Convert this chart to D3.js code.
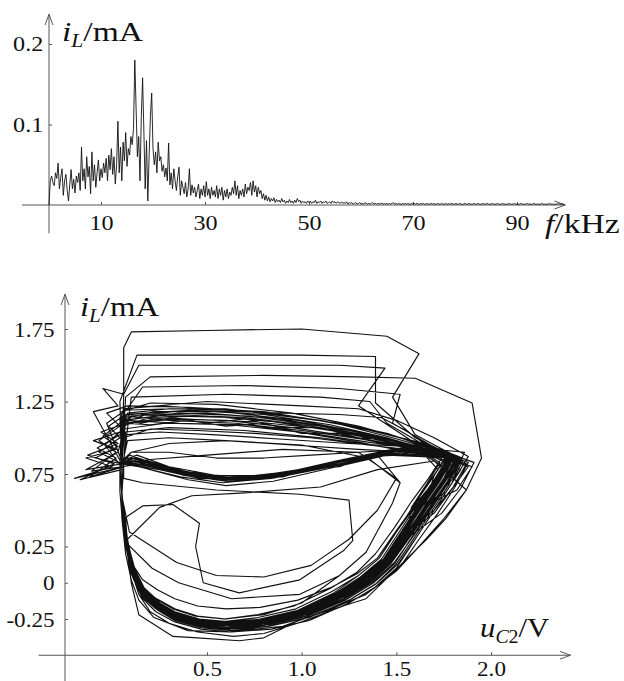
<!DOCTYPE html>
<html>
<head>
<meta charset="utf-8">
<script src="https://cdn.jsdelivr.net/npm/d3@7"></script>
<style>
  body { margin: 0; background: #fff; }
  svg text { font-family: "Liberation Serif", "DejaVu Serif", serif; fill: #111; }
</style>
</head>
<body>
<svg id="chart" width="624" height="681"></svg>
<script>
// spectrum: amplitude (mA) every 0.25 kHz from 0 to 99 kHz
const fStep = 0.25;
const spectrum = [
  0.000,0.030,0.036,0.028,0.024,0.040,0.033,0.052,0.020,0.034,
  0.045,0.012,0.030,0.038,0.018,0.005,0.026,0.044,0.020,0.032,
  0.015,0.036,0.028,0.040,0.018,0.072,0.030,0.045,0.020,0.060,
  0.035,0.048,0.014,0.066,0.030,0.050,0.022,0.040,0.056,0.030,
  0.045,0.034,0.052,0.040,0.058,0.030,0.062,0.044,0.070,0.038,
  0.060,0.026,0.050,0.104,0.040,0.072,0.030,0.078,0.055,0.090,
  0.048,0.070,0.062,0.085,0.075,0.095,0.180,0.120,0.060,0.085,
  0.030,0.110,0.158,0.090,0.020,0.080,0.005,0.060,0.110,0.139,
  0.070,0.050,0.066,0.040,0.078,0.055,0.060,0.042,0.050,0.035,
  0.046,0.030,0.077,0.025,0.040,0.020,0.045,0.030,0.018,0.035,
  0.047,0.012,0.030,0.022,0.014,0.028,0.010,0.020,0.045,0.012,
  0.025,0.015,0.022,0.010,0.018,0.026,0.008,0.020,0.012,0.024,
  0.010,0.029,0.012,0.020,0.008,0.022,0.012,0.018,0.010,0.024,
  0.008,0.020,0.012,0.022,0.006,0.018,0.010,0.020,0.008,0.016,
  0.012,0.022,0.014,0.030,0.012,0.024,0.008,0.018,0.012,0.020,
  0.010,0.026,0.014,0.022,0.018,0.028,0.012,0.030,0.016,0.024,
  0.010,0.022,0.014,0.018,0.008,0.014,0.006,0.012,0.005,0.010,
  0.004,0.008,0.005,0.009,0.003,0.007,0.004,0.006,0.003,0.008,
  0.004,0.006,0.002,0.005,0.003,0.007,0.003,0.005,0.002,0.006,
  0.003,0.008,0.004,0.006,0.002,0.005,0.003,0.004,0.002,0.005,
  0.003,0.005,0.002,0.004,0.003,0.006,0.002,0.004,0.003,0.005,0.002,0.004,0.003,0.005,0.002,0.003,0.004,0.002,0.005,0.003,
  0.004,0.002,0.004,0.003,0.002,0.004,0.002,0.003,0.002,0.004,0.001,0.003,0.002,0.003,0.001,0.002,0.003,0.001,0.002,0.003,
  0.001,0.002,0.001,0.003,0.002,0.001,0.002,0.001,0.002,0.003,0.001,0.002,0.001,0.002,0.001,0.002,0.002,0.001,0.002,0.001,
  0.002,0.001,0.002,0.001,0.002,0.003,0.001,0.002,0.001,0.002,0.001,0.001,0.002,0.001,0.002,0.001,0.002,0.001,0.001,0.002,
  0.001,0.002,0.001,0.002,0.001,0.001,0.002,0.001,0.002,0.001,0.001,0.002,0.001,0.001,0.002,0.001,0.002,0.001,0.001,0.002,
  0.001,0.001,0.002,0.001,0.001,0.002,0.001,0.001,0.002,0.001,0.002,0.001,0.001,0.002,0.001,0.001,0.002,0.001,0.001,0.001,
  0.002,0.001,0.001,0.002,0.001,0.001,0.001,0.002,0.001,0.001,0.002,0.001,0.001,0.001,0.002,0.001,0.001,0.002,0.001,0.001,
  0.001,0.002,0.001,0.001,0.001,0.002,0.001,0.001,0.001,0.002,0.001,0.001,0.001,0.001,0.002,0.001,0.001,0.001,0.002,0.001,
  0.001,0.001,0.001,0.002,0.001,0.001,0.001,0.001,0.002,0.001,0.001,0.001,0.001,0.002,0.001,0.001,0.001,0.001,0.001,0.002,
  0.001,0.001,0.001,0.001,0.001,0.002,0.001,0.001,0.001,0.001,0.001,0.001,0.002,0.001,0.001,0.001,0.001
];
const fTicks = [10, 30, 50, 70, 90];
const aTicks = [0.1, 0.2];

// phase portrait (u_C2 in V, i_L in mA), traced loop by loop
const mainLoops = [
  [[0.05,0.78],[0.05,1.08],[0.2,1.14],[0.5,1.15],[0.85,1.11],[1.2,1.04],[1.5,0.96],[1.87,0.82],[1.8,0.66],[1.7,0.5],[1.55,0.36],[1.45,0.16],[1.35,0.04],[1.2,-0.08],[1.0,-0.2],[0.8,-0.26],[0.6,-0.29],[0.45,-0.27],[0.32,-0.22],[0.24,-0.16],[0.17,-0.08],[0.11,0.06],[0.08,0.25],[0.06,0.45],[0.05,0.62]],
  [[0.05,0.8],[0.15,0.82],[0.35,0.75],[0.6,0.71],[0.85,0.74],[1.15,0.82],[1.45,0.91],[1.79,0.87],[1.72,0.71],[1.63,0.54],[1.54,0.35],[1.44,0.15],[1.33,0.03],[1.19,-0.09],[0.99,-0.21],[0.79,-0.27],[0.59,-0.3],[0.44,-0.28],[0.31,-0.23],[0.23,-0.17],[0.16,-0.09],[0.11,0.05],[0.08,0.24],[0.06,0.46],[0.05,0.63]],
  [[0.06,0.8],[-0.12,0.73],[0.02,0.86],[-0.08,0.93],[0.04,1.02],[0.1,1.15],[0.4,1.19],[0.8,1.16],[1.15,1.09],[1.45,1.0],[1.66,0.92],[1.84,0.85],[1.76,0.7],[1.67,0.53],[1.57,0.34],[1.46,0.14],[1.36,0.02],[1.21,-0.1],[1.01,-0.21],[0.81,-0.28],[0.61,-0.31],[0.46,-0.29],[0.33,-0.24],[0.24,-0.17],[0.17,-0.09],[0.12,0.04],[0.08,0.24],[0.06,0.44],[0.05,0.61]],
  [[0.05,0.82],[0.07,1.15],[0.3,1.12],[0.65,1.1],[1.0,1.05],[1.32,0.99],[1.6,0.92],[1.75,0.8],[1.68,0.66],[1.6,0.51],[1.55,0.34],[1.45,0.15],[1.34,0.03],[1.2,-0.09],[1.0,-0.2],[0.8,-0.27],[0.61,-0.29],[0.45,-0.27],[0.32,-0.22],[0.23,-0.16],[0.16,-0.08],[0.11,0.06],[0.07,0.26],[0.05,0.46],[0.05,0.64]],
  [[0.05,0.82],[0.1,0.86],[0.28,0.79],[0.5,0.73],[0.7,0.72],[1.0,0.77],[1.3,0.86],[1.55,0.93],[1.77,0.88],[1.71,0.71],[1.62,0.54],[1.53,0.36],[1.43,0.16],[1.32,0.04],[1.18,-0.08],[0.98,-0.2],[0.78,-0.26],[0.59,-0.28],[0.43,-0.26],[0.3,-0.21],[0.22,-0.15],[0.15,-0.07],[0.1,0.07],[0.07,0.27],[0.05,0.47],[0.04,0.63]],
  [[0.04,0.8],[0.05,1.18],[0.2,1.24],[0.55,1.23],[0.95,1.17],[1.3,1.08],[1.6,0.97],[1.91,0.83],[1.84,0.65],[1.74,0.48],[1.58,0.33],[1.47,0.13],[1.37,0.01],[1.22,-0.11],[1.02,-0.22],[0.82,-0.29],[0.62,-0.32],[0.47,-0.3],[0.34,-0.25],[0.25,-0.18],[0.18,-0.1],[0.12,0.03],[0.08,0.23],[0.06,0.44],[0.05,0.6]],
  [[0.05,0.78],[-0.17,0.71],[0.01,0.82],[-0.13,0.88],[0.03,0.96],[-0.06,1.04],[0.07,1.1],[0.35,1.13],[0.75,1.11],[1.12,1.06],[1.42,0.98],[1.64,0.91],[1.81,0.84],[1.74,0.68],[1.65,0.51],[1.55,0.33],[1.45,0.14],[1.35,0.02],[1.2,-0.1],[1.0,-0.21],[0.8,-0.28],[0.6,-0.3],[0.44,-0.28],[0.31,-0.23],[0.23,-0.17],[0.16,-0.09],[0.11,0.05],[0.07,0.25],[0.05,0.45],[0.05,0.62]],
  [[0.05,0.83],[0.2,0.8],[0.42,0.74],[0.64,0.7],[0.9,0.74],[1.2,0.83],[1.5,0.92],[1.8,0.86],[1.73,0.7],[1.64,0.53],[1.55,0.35],[1.45,0.15],[1.34,0.03],[1.2,-0.08],[1.0,-0.2],[0.8,-0.26],[0.6,-0.28],[0.45,-0.26],[0.32,-0.21],[0.24,-0.15],[0.17,-0.07],[0.11,0.06],[0.08,0.25],[0.06,0.45],[0.05,0.62]],
  [[0.06,0.82],[0.07,1.04],[0.3,1.07],[0.7,1.05],[1.1,1.0],[1.42,0.94],[1.65,0.89],[1.73,0.83],[1.66,0.68],[1.58,0.52],[1.56,0.36],[1.46,0.17],[1.35,0.05],[1.21,-0.07],[1.01,-0.19],[0.81,-0.25],[0.62,-0.27],[0.46,-0.25],[0.33,-0.2],[0.25,-0.14],[0.18,-0.06],[0.12,0.07],[0.08,0.27],[0.06,0.47],[0.05,0.63]],
  [[0.05,0.84],[0.13,0.88],[0.3,0.8],[0.55,0.74],[0.78,0.74],[1.08,0.8],[1.38,0.89],[1.6,0.94],[1.78,0.87],[1.72,0.72],[1.63,0.55],[1.54,0.37],[1.44,0.17],[1.33,0.05],[1.19,-0.07],[0.99,-0.19],[0.79,-0.26],[0.6,-0.29],[0.44,-0.27],[0.31,-0.22],[0.23,-0.15],[0.16,-0.07],[0.1,0.07],[0.07,0.27],[0.05,0.47],[0.05,0.64]],
  [[0.05,0.82],[-0.09,0.86],[0.03,0.94],[-0.05,1.01],[0.06,1.12],[0.35,1.17],[0.72,1.15],[1.1,1.08],[1.44,0.99],[1.68,0.91],[1.83,0.85],[1.75,0.69],[1.66,0.52],[1.56,0.34],[1.46,0.14],[1.36,0.02],[1.21,-0.09],[1.01,-0.21],[0.81,-0.27],[0.61,-0.3],[0.45,-0.28],[0.32,-0.23],[0.24,-0.17],[0.17,-0.09],[0.11,0.05],[0.08,0.25],[0.06,0.45],[0.05,0.61]],
  [[0.05,0.8],[0.06,1.1],[0.25,1.13],[0.6,1.12],[0.95,1.07],[1.3,1.0],[1.58,0.93],[1.8,0.85],[1.72,0.69],[1.63,0.52],[1.54,0.34],[1.44,0.15],[1.33,0.03],[1.19,-0.08],[0.99,-0.2],[0.79,-0.26],[0.6,-0.29],[0.45,-0.27],[0.32,-0.22],[0.24,-0.16],[0.17,-0.08],[0.11,0.06],[0.08,0.26],[0.07,0.45],[0.16,0.53],[0.32,0.54],[0.46,0.41],[0.44,0.25],[0.48,0.0],[0.67,-0.07],[0.99,0.02],[1.22,0.22],[1.27,0.29],[1.25,0.57],[0.99,0.61],[0.55,0.64],[0.16,0.69],[0.06,0.72]],
  [[0.06,0.82],[0.25,0.78],[0.46,0.72],[0.66,0.71],[0.95,0.76],[1.25,0.85],[1.53,0.93],[1.78,0.9],[1.7,0.74],[1.65,0.53],[1.56,0.35],[1.46,0.15],[1.35,0.03],[1.21,-0.09],[1.01,-0.2],[0.81,-0.27],[0.61,-0.3],[0.46,-0.28],[0.33,-0.23],[0.25,-0.17],[0.18,-0.09],[0.12,0.05],[0.08,0.25],[0.06,0.45],[0.05,0.63]],
  [[0.05,0.8],[0.06,1.12],[0.3,1.16],[0.7,1.14],[1.05,1.08],[1.38,1.0],[1.63,0.92],[1.85,0.84],[1.79,0.68],[1.7,0.5],[1.6,0.3],[1.5,0.1],[1.38,-0.04],[1.22,-0.16],[1.0,-0.27],[0.8,-0.35],[0.64,-0.37],[0.45,-0.34],[0.3,-0.28],[0.2,-0.2],[0.14,-0.08],[0.1,0.08],[0.08,0.28],[0.06,0.46],[0.05,0.64]],
  [[0.05,0.82],[0.06,1.06],[0.28,1.1],[0.62,1.09],[0.98,1.04],[1.3,0.97],[1.57,0.9],[1.78,0.84],[1.7,0.7],[1.6,0.54],[1.5,0.36],[1.4,0.17],[1.29,0.06],[1.16,-0.03],[0.98,-0.12],[0.78,-0.17],[0.6,-0.18],[0.45,-0.16],[0.33,-0.11],[0.24,-0.05],[0.16,0.02],[0.11,0.12],[0.08,0.3],[0.06,0.48],[0.05,0.64]],
  [[0.05,0.84],[0.16,0.85],[0.38,0.77],[0.6,0.72],[0.82,0.73],[1.12,0.81],[1.42,0.9],[1.76,0.87],[1.69,0.72],[1.6,0.55],[1.51,0.37],[1.41,0.17],[1.3,0.05],[1.17,-0.07],[0.98,-0.19],[0.78,-0.25],[0.59,-0.28],[0.43,-0.26],[0.3,-0.21],[0.22,-0.15],[0.15,-0.07],[0.1,0.07],[0.07,0.27],[0.05,0.47],[0.05,0.63]],
  [[0.05,0.8],[-0.11,0.77],[0.02,0.9],[-0.07,0.98],[0.04,1.08],[-0.03,1.17],[0.08,1.22],[0.4,1.21],[0.8,1.18],[1.18,1.1],[1.48,1.0],[1.7,0.92],[1.84,0.86],[1.77,0.7],[1.68,0.53],[1.58,0.34],[1.47,0.14],[1.37,0.02],[1.22,-0.1],[1.02,-0.22],[0.82,-0.29],[0.62,-0.32],[0.46,-0.3],[0.33,-0.24],[0.25,-0.17],[0.18,-0.09],[0.12,0.05],[0.08,0.25],[0.06,0.45],[0.05,0.62]],
  [[0.05,0.83],[0.22,0.81],[0.43,0.75],[0.65,0.72],[0.92,0.75],[1.22,0.84],[1.5,0.91],[1.79,0.86],[1.72,0.7],[1.63,0.53],[1.54,0.35],[1.44,0.15],[1.33,0.03],[1.19,-0.09],[0.99,-0.21],[0.79,-0.27],[0.6,-0.3],[0.44,-0.28],[0.31,-0.23],[0.23,-0.17],[0.16,-0.09],[0.11,0.05],[0.07,0.25],[0.05,0.45],[0.05,0.62]],
  [[0.05,0.82],[0.06,1.13],[0.22,1.18],[0.58,1.18],[0.98,1.12],[1.34,1.03],[1.62,0.94],[1.88,0.8],[1.79,0.64],[1.7,0.48],[1.57,0.35],[1.46,0.16],[1.35,0.04],[1.21,-0.08],[1.01,-0.2],[0.81,-0.26],[0.61,-0.29],[0.46,-0.27],[0.33,-0.22],[0.24,-0.16],[0.17,-0.08],[0.11,0.06],[0.08,0.26],[0.06,0.46],[0.05,0.63]],
  [[0.05,0.82],[0.12,0.84],[0.33,0.77],[0.58,0.72],[0.8,0.72],[1.1,0.79],[1.4,0.88],[1.52,0.69],[1.48,0.55],[1.34,0.21],[1.2,0.05],[1.0,-0.14],[0.8,-0.22],[0.6,-0.25],[0.45,-0.23],[0.33,-0.18],[0.22,-0.1],[0.14,0.0],[0.09,0.15],[0.07,0.35],[0.05,0.55]],
  [[0.05,0.8],[0.05,1.1],[0.18,1.16],[0.5,1.17],[0.88,1.13],[1.25,1.05],[1.55,0.96],[1.8,0.87],[1.73,0.71],[1.64,0.54],[1.55,0.36],[1.45,0.16],[1.34,0.04],[1.2,-0.08],[1.0,-0.2],[0.8,-0.27],[0.6,-0.3],[0.45,-0.28],[0.32,-0.23],[0.23,-0.17],[0.16,-0.08],[0.11,0.05],[0.07,0.25],[0.05,0.45],[0.05,0.62]],
  [[0.05,0.84],[0.18,0.83],[0.4,0.76],[0.62,0.72],[0.88,0.75],[1.18,0.84],[1.48,0.92],[1.78,0.86],[1.71,0.71],[1.62,0.54],[1.53,0.35],[1.43,0.16],[1.32,0.04],[1.18,-0.08],[0.98,-0.2],[0.78,-0.26],[0.59,-0.29],[0.44,-0.27],[0.31,-0.22],[0.23,-0.16],[0.16,-0.08],[0.1,0.06],[0.07,0.26],[0.05,0.46],[0.05,0.63]]
];
const extraLoops = [
  [[0.05,0.8],[0.08,0.98],[0.3,1.0],[0.6,0.98],[0.95,0.95],[1.3,0.92],[1.6,0.9],[1.8,0.85],[1.78,0.68],[1.69,0.5],[1.6,0.32],[1.5,0.13],[1.39,-0.01],[1.24,-0.13],[1.03,-0.24],[0.82,-0.3],[0.62,-0.32],[0.46,-0.3],[0.32,-0.25],[0.23,-0.18],[0.16,-0.1],[0.11,0.04],[0.08,0.24],[0.06,0.44],[0.05,0.62]],
  [[0.05,0.83],[0.04,1.14],[0.15,1.1],[0.32,1.14],[0.5,1.1],[0.7,1.13],[0.9,1.07],[1.1,1.07],[1.3,1.0],[1.5,0.98],[1.7,0.9],[1.9,0.8],[1.82,0.64],[1.68,0.55],[1.59,0.37],[1.49,0.18],[1.38,0.05],[1.23,-0.07],[1.03,-0.19],[0.82,-0.25],[0.62,-0.28],[0.46,-0.26],[0.33,-0.21],[0.25,-0.15],[0.18,-0.07],[0.12,0.07],[0.08,0.26],[0.06,0.46],[0.05,0.62]],
  [[0.05,0.82],[0.14,0.8],[0.36,0.73],[0.58,0.69],[0.84,0.72],[1.12,0.79],[1.4,0.87],[1.6,0.9],[1.74,0.86],[1.67,0.72],[1.58,0.56],[1.49,0.38],[1.39,0.2],[1.29,0.07],[1.15,-0.04],[0.96,-0.16],[0.77,-0.22],[0.59,-0.25],[0.44,-0.23],[0.32,-0.18],[0.24,-0.12],[0.17,-0.04],[0.12,0.09],[0.08,0.28],[0.06,0.48],[0.05,0.64]],
  [[0.05,0.8],[-0.04,0.95],[0.05,1.05],[0.06,1.2],[0.25,1.22],[0.5,1.2],[0.8,1.17],[1.1,1.12],[1.4,1.04],[1.65,0.96],[1.83,0.87],[1.76,0.71],[1.67,0.54],[1.58,0.36],[1.48,0.16],[1.37,0.03],[1.22,-0.09],[1.02,-0.21],[0.81,-0.27],[0.61,-0.3],[0.45,-0.28],[0.32,-0.23],[0.24,-0.16],[0.17,-0.08],[0.11,0.06],[0.08,0.26],[0.06,0.46],[0.05,0.62]],
  [[0.05,0.84],[0.1,0.9],[0.3,0.9],[0.55,0.86],[0.8,0.86],[1.05,0.88],[1.3,0.9],[1.55,0.92],[1.78,0.86],[1.71,0.7],[1.62,0.53],[1.53,0.35],[1.43,0.15],[1.32,0.03],[1.18,-0.09],[0.98,-0.21],[0.78,-0.27],[0.59,-0.3],[0.44,-0.28],[0.31,-0.22],[0.23,-0.16],[0.16,-0.08],[0.11,0.06],[0.07,0.26],[0.05,0.46],[0.05,0.63]],
  [[0.05,0.83],[0.16,0.84],[0.3,0.77],[0.45,0.76],[0.6,0.71],[0.75,0.74],[0.9,0.73],[1.05,0.79],[1.2,0.8],[1.35,0.87],[1.5,0.88],[1.65,0.93],[1.81,0.86],[1.75,0.7],[1.66,0.52],[1.57,0.34],[1.47,0.14],[1.36,0.02],[1.21,-0.1],[1.01,-0.22],[0.8,-0.28],[0.6,-0.31],[0.44,-0.29],[0.31,-0.24],[0.23,-0.17],[0.16,-0.09],[0.11,0.05],[0.07,0.25],[0.05,0.45],[0.05,0.62]],
  [[0.05,0.81],[0.06,1.1],[0.2,1.09],[0.4,1.12],[0.6,1.08],[0.8,1.1],[1.0,1.03],[1.2,1.03],[1.4,0.97],[1.6,0.95],[1.76,0.88],[1.88,0.83],[1.81,0.66],[1.72,0.48],[1.62,0.3],[1.52,0.11],[1.4,-0.02],[1.25,-0.14],[1.04,-0.26],[0.84,-0.32],[0.63,-0.34],[0.47,-0.32],[0.33,-0.27],[0.23,-0.2],[0.16,-0.11],[0.11,0.03],[0.08,0.23],[0.06,0.43],[0.05,0.6]],
  [[0.06,0.8],[-0.2,0.72],[0.0,0.8],[-0.14,0.86],[0.02,0.92],[-0.1,0.98],[0.04,1.04],[0.08,1.17],[0.3,1.2],[0.65,1.19],[1.0,1.14],[1.3,1.07],[1.55,0.99],[1.78,0.88],[1.72,0.72],[1.63,0.55],[1.54,0.37],[1.44,0.17],[1.33,0.05],[1.19,-0.07],[0.99,-0.19],[0.79,-0.25],[0.6,-0.28],[0.45,-0.26],[0.32,-0.21],[0.24,-0.15],[0.17,-0.07],[0.11,0.07],[0.08,0.27],[0.06,0.47],[0.05,0.63]],
  [[0.05,0.84],[0.2,0.78],[0.4,0.71],[0.6,0.67],[0.85,0.7],[1.15,0.79],[1.45,0.88],[1.8,0.86],[1.74,0.69],[1.65,0.52],[1.56,0.34],[1.46,0.14],[1.35,0.02],[1.21,-0.1],[1.01,-0.21],[0.81,-0.28],[0.61,-0.31],[0.46,-0.29],[0.33,-0.24],[0.24,-0.17],[0.17,-0.09],[0.12,0.05],[0.08,0.25],[0.06,0.45],[0.05,0.62]],
  [[0.05,0.82],[0.07,1.12],[0.35,1.1],[0.7,1.09],[1.05,1.03],[1.35,0.97],[1.58,0.93],[1.65,0.88],[1.72,0.78],[1.64,0.64],[1.6,0.53],[1.5,0.35],[1.41,0.17],[1.3,0.05],[1.16,-0.06],[0.97,-0.18],[0.77,-0.24],[0.58,-0.27],[0.43,-0.25],[0.31,-0.2],[0.23,-0.14],[0.16,-0.06],[0.1,0.08],[0.07,0.28],[0.05,0.48],[0.05,0.64]],
  [[0.05,0.83],[0.06,1.16],[0.4,1.19],[0.9,1.17],[1.2,1.16],[1.42,1.14],[1.55,1.05],[1.66,0.95],[1.85,0.86],[1.78,0.7],[1.69,0.52],[1.6,0.34],[1.49,0.14],[1.38,0.01],[1.23,-0.11],[1.03,-0.23],[0.82,-0.29],[0.62,-0.32],[0.46,-0.3],[0.33,-0.25],[0.24,-0.18],[0.17,-0.1],[0.12,0.04],[0.08,0.24],[0.06,0.44],[0.05,0.61]],
  [[0.05,0.82],[0.09,0.88],[0.25,0.81],[0.45,0.75],[0.68,0.73],[0.96,0.77],[1.26,0.86],[1.56,0.94],[1.8,0.87],[1.73,0.72],[1.64,0.55],[1.55,0.37],[1.45,0.17],[1.34,0.05],[1.2,-0.07],[1.0,-0.19],[0.8,-0.25],[0.61,-0.28],[0.45,-0.26],[0.32,-0.21],[0.24,-0.15],[0.17,-0.07],[0.11,0.07],[0.08,0.27],[0.06,0.47],[0.05,0.63]],
  [[0.05,0.8],[0.06,1.02],[0.25,1.04],[0.55,1.02],[0.9,0.99],[1.25,0.96],[1.55,0.94],[1.83,0.85],[1.75,0.69],[1.66,0.52],[1.57,0.34],[1.46,0.14],[1.35,0.02],[1.2,-0.1],[1.0,-0.21],[0.8,-0.27],[0.6,-0.3],[0.44,-0.28],[0.31,-0.23],[0.23,-0.17],[0.16,-0.09],[0.11,0.05],[0.07,0.25],[0.05,0.45],[0.05,0.62]],
  [[0.05,0.82],[-0.07,0.9],[0.04,1.0],[-0.02,1.08],[0.07,1.16],[0.3,1.15],[0.62,1.14],[0.95,1.1],[1.28,1.03],[1.55,0.96],[1.84,0.78],[1.76,0.62],[1.63,0.54],[1.54,0.36],[1.44,0.16],[1.33,0.04],[1.19,-0.08],[0.99,-0.2],[0.79,-0.26],[0.6,-0.29],[0.45,-0.27],[0.32,-0.22],[0.24,-0.16],[0.17,-0.08],[0.11,0.06],[0.08,0.26],[0.06,0.46],[0.05,0.63]],
  [[0.05,0.83],[0.12,0.86],[0.32,0.78],[0.52,0.74],[0.72,0.73],[1.0,0.78],[1.28,0.85],[1.58,0.91],[1.83,0.85],[1.77,0.69],[1.68,0.51],[1.59,0.33],[1.49,0.13],[1.38,0.0],[1.23,-0.12],[1.03,-0.23],[0.83,-0.29],[0.62,-0.32],[0.46,-0.3],[0.33,-0.25],[0.24,-0.18],[0.17,-0.1],[0.12,0.04],[0.08,0.24],[0.06,0.44],[0.05,0.61]],
  [[0.05,0.81],[0.06,1.19],[0.3,1.2],[0.6,1.2],[0.9,1.15],[1.2,1.1],[1.45,1.03],[1.68,0.93],[1.82,0.86],[1.74,0.7],[1.65,0.53],[1.56,0.35],[1.46,0.15],[1.35,0.03],[1.21,-0.09],[1.01,-0.2],[0.81,-0.26],[0.61,-0.29],[0.46,-0.27],[0.33,-0.22],[0.25,-0.16],[0.18,-0.08],[0.12,0.06],[0.08,0.26],[0.06,0.46],[0.05,0.62]],
  [[0.05,0.82],[0.06,1.2],[0.5,1.25],[1.0,1.22],[1.3,1.2],[1.5,1.12],[1.7,1.0],[1.88,0.87],[1.8,0.7],[1.71,0.52],[1.62,0.34],[1.51,0.13],[1.4,0.0],[1.25,-0.12],[1.04,-0.24],[0.83,-0.3],[0.63,-0.33],[0.47,-0.31],[0.33,-0.26],[0.24,-0.19],[0.17,-0.1],[0.12,0.04],[0.08,0.24],[0.06,0.44],[0.05,0.61]],
  [[0.05,0.83],[0.18,0.81],[0.38,0.74],[0.6,0.7],[0.86,0.73],[1.16,0.81],[1.46,0.89],[1.77,0.86],[1.7,0.71],[1.61,0.54],[1.52,0.36],[1.42,0.16],[1.31,0.04],[1.17,-0.08],[0.97,-0.2],[0.77,-0.26],[0.58,-0.29],[0.43,-0.27],[0.3,-0.22],[0.22,-0.16],[0.15,-0.08],[0.1,0.06],[0.07,0.26],[0.05,0.46],[0.05,0.63]],
  [[0.05,0.82],[0.06,1.0],[0.2,1.06],[0.45,1.05],[0.75,1.03],[1.05,1.0],[1.35,0.95],[1.62,0.91],[1.8,0.86],[1.73,0.71],[1.64,0.54],[1.55,0.36],[1.45,0.16],[1.34,0.04],[1.2,-0.08],[1.0,-0.2],[0.8,-0.26],[0.6,-0.29],[0.45,-0.27],[0.32,-0.22],[0.24,-0.16],[0.17,-0.08],[0.11,0.06],[0.08,0.26],[0.06,0.46],[0.05,0.62]],
  [[0.05,0.84],[0.14,0.83],[0.34,0.76],[0.56,0.72],[0.8,0.74],[1.06,0.79],[1.34,0.87],[1.62,0.93],[1.86,0.9],[1.8,0.72],[1.67,0.53],[1.58,0.35],[1.48,0.15],[1.37,0.03],[1.22,-0.09],[1.02,-0.21],[0.82,-0.27],[0.62,-0.3],[0.46,-0.28],[0.33,-0.23],[0.25,-0.17],[0.18,-0.09],[0.12,0.05],[0.08,0.25],[0.06,0.45],[0.05,0.62]]
];
const upperLoops = [
  [[0.05,0.82],[0.06,1.3],[0.06,1.62],[0.1,1.73],[0.5,1.74],[1.0,1.75],[1.45,1.7],[1.62,1.58],[1.48,1.28],[1.6,1.02],[1.83,0.86],[1.76,0.7],[1.67,0.53],[1.57,0.34],[1.46,0.15],[1.35,0.03],[1.21,-0.09],[1.01,-0.21],[0.81,-0.28],[0.61,-0.31],[0.45,-0.29],[0.32,-0.24],[0.24,-0.17],[0.17,-0.09],[0.11,0.05],[0.08,0.25],[0.06,0.45],[0.05,0.62]],
  [[0.05,0.82],[0.04,1.25],[0.13,1.57],[0.6,1.57],[1.0,1.57],[1.39,1.56],[1.39,1.24],[1.6,1.0],[1.82,0.86],[1.75,0.7],[1.66,0.53],[1.56,0.35],[1.46,0.15],[1.35,0.03],[1.2,-0.09],[1.0,-0.2],[0.8,-0.27],[0.6,-0.29],[0.45,-0.27],[0.32,-0.22],[0.24,-0.16],[0.17,-0.08],[0.11,0.06],[0.08,0.26],[0.06,0.46],[0.05,0.62]],
  [[0.05,0.82],[-0.1,1.18],[0.03,1.22],[-0.05,1.34],[0.06,1.3],[0.14,1.5],[0.7,1.5],[1.2,1.5],[1.44,1.48],[1.3,1.22],[1.58,0.98],[1.81,0.85],[1.74,0.69],[1.65,0.52],[1.55,0.34],[1.45,0.14],[1.34,0.02],[1.2,-0.1],[1.0,-0.22],[0.8,-0.29],[0.6,-0.32],[0.45,-0.3],[0.32,-0.24],[0.23,-0.17],[0.16,-0.09],[0.11,0.05],[0.07,0.25],[0.05,0.45],[0.05,0.62]],
  [[0.05,0.83],[0.07,1.28],[0.2,1.42],[0.8,1.43],[1.3,1.42],[1.6,1.41],[1.9,1.24],[1.95,0.86],[1.87,0.64],[1.76,0.44],[1.66,0.3],[1.52,0.12],[1.34,-0.11],[1.0,-0.25],[0.8,-0.38],[0.67,-0.4],[0.45,-0.38],[0.32,-0.37],[0.14,-0.22],[0.1,0.0],[0.07,0.3],[0.05,0.6]],
  [[0.05,0.84],[-0.03,1.1],[0.08,1.2],[0.16,1.35],[0.7,1.36],[1.2,1.34],[1.52,1.3],[1.48,1.1],[1.68,0.95],[1.84,0.85],[1.77,0.69],[1.68,0.52],[1.58,0.33],[1.47,0.13],[1.36,0.01],[1.22,-0.11],[1.02,-0.23],[0.82,-0.29],[0.62,-0.32],[0.46,-0.3],[0.33,-0.25],[0.24,-0.18],[0.17,-0.1],[0.12,0.04],[0.08,0.24],[0.06,0.44],[0.05,0.61]],
  [[0.06,0.84],[0.1,1.28],[0.6,1.3],[1.1,1.28],[1.36,1.25],[1.45,1.1],[1.62,0.97],[1.8,0.87],[1.73,0.71],[1.64,0.54],[1.54,0.36],[1.44,0.16],[1.33,0.04],[1.19,-0.08],[0.99,-0.19],[0.79,-0.25],[0.6,-0.27],[0.45,-0.25],[0.32,-0.2],[0.24,-0.14],[0.17,-0.06],[0.11,0.08],[0.08,0.28],[0.06,0.47],[0.05,0.63]]
];
const innerLoops = [
  [[0.05,0.62],[0.08,0.3],[0.25,0.52],[0.42,0.6],[0.7,0.62],[1.1,0.66],[1.4,0.78],[1.7,0.84],[1.87,0.64],[1.75,0.44],[1.62,0.25],[1.5,0.08],[1.34,-0.08],[1.12,-0.2],[0.9,-0.3],[0.62,-0.34],[0.4,-0.33],[0.22,-0.24],[0.14,-0.12],[0.1,0.02],[0.07,0.2],[0.05,0.45]],
  [[0.05,0.5],[0.07,0.28],[0.21,0.1],[0.35,0.0],[0.63,-0.11],[0.99,-0.08],[1.2,0.05],[1.34,0.21],[1.48,0.55],[1.52,0.69],[1.35,0.86],[1.0,0.95],[0.6,0.98],[0.3,0.96],[0.1,0.9],[0.04,0.82]],
  [[0.05,0.6],[0.09,0.35],[0.34,0.14],[0.55,0.05],[0.8,0.04],[1.05,0.12],[1.25,0.3],[1.4,0.5],[1.5,0.72],[1.3,0.9],[0.9,0.92],[0.5,0.88],[0.2,0.85],[-0.14,0.78],[0.03,0.9],[0.05,1.0]]
];
const uTicks = [0.5, 1.0, 1.5, 2.0];
const iTicks = [-0.25, 0, 0.25, 0.75, 1.25, 1.75];

const svg = d3.select("#chart");
const ink = "#111", axisInk = "#555";

// open arrow head for the axes
svg.append("defs").append("marker")
  .attr("id", "arrow")
  .attr("viewBox", "0 -5 12 10")
  .attr("refX", 11).attr("refY", 0)
  .attr("markerWidth", 12).attr("markerHeight", 10)
  .attr("markerUnits", "userSpaceOnUse")
  .attr("orient", "auto")
  .append("path")
    .attr("d", "M0,-4L11,0L0,4")
    .attr("fill", "none")
    .attr("stroke", axisInk)
    .attr("stroke-width", 1);

// the scanned lettering is a little wider than Liberation Serif
function styleAxis(g, size, stretch) {
  g.select(".domain").remove();
  g.attr("font-family", "Liberation Serif, DejaVu Serif, serif")
    .attr("font-size", size)
    .attr("color", axisInk);
  g.selectAll("text").attr("fill", ink).attr("transform", `scale(${stretch},1)`);
}

function axisLine(x1, y1, x2, y2) {
  svg.append("line")
    .attr("x1", x1).attr("y1", y1).attr("x2", x2).attr("y2", y2)
    .attr("stroke", axisInk).attr("stroke-width", 1)
    .attr("marker-end", "url(#arrow)");
}

function title(x, y, stretch) {
  return svg.append("g")
    .attr("transform", `translate(${x},${y}) scale(${stretch},1)`)
    .append("text").attr("font-size", 28);
}

// ---------- top: spectrum ----------
const fx = d3.scaleLinear().domain([0, 90]).range([49, 517]);
const fy = d3.scaleLinear().domain([0, 0.2]).range([205, 44]);

axisLine(fx(-5.2), fy(0), fx(99.3), fy(0));
axisLine(fx(0), fy(-0.035), fx(0), fy(0.237));

svg.append("g")
  .attr("transform", `translate(0,${fy(0)})`)
  .call(d3.axisBottom(fx).tickValues(fTicks).tickSize(-3).tickPadding(10).tickFormat(d3.format("d")))
  .call(g => styleAxis(g, 21, 1.15));

svg.append("g")
  .attr("transform", `translate(${fx(0)},0)`)
  .call(d3.axisLeft(fy).tickValues(aTicks).tickSize(-3).tickPadding(5).tickFormat(d3.format(".1f")))
  .call(g => styleAxis(g, 21, 1.15));

svg.append("path")
  .datum(spectrum)
  .attr("fill", "none")
  .attr("stroke", ink)
  .attr("stroke-width", 0.9)
  .attr("stroke-linejoin", "round")
  .attr("d", d3.line().x((d, i) => fx(i * fStep)).y(d => fy(d)));

const topY = title(62, 41, 1.2);
topY.append("tspan").attr("font-style", "italic").text("i");
topY.append("tspan").attr("font-style", "italic").attr("font-size", 18).attr("dy", 6).text("L");
topY.append("tspan").attr("dy", -6).text("/mA");

const topX = title(545, 233, 1.2);
topX.append("tspan").attr("font-style", "italic").text("f");
topX.append("tspan").text("/kHz");

// ---------- bottom: phase portrait ----------
const ux = d3.scaleLinear().domain([0.5, 2.0]).range([207, 491]);
const iy = d3.scaleLinear().domain([-0.25, 1.75]).range([619, 329]);

axisLine(ux(-0.39), iy(-0.5), ux(2.42), iy(-0.5));
axisLine(ux(-0.25), iy(-0.7), ux(-0.25), iy(1.99));

svg.append("g")
  .attr("transform", `translate(0,${iy(-0.5)})`)
  .call(d3.axisBottom(ux).tickValues(uTicks).tickSize(-3).tickPadding(5).tickFormat(d3.format(".1f")))
  .call(g => styleAxis(g, 22, 1.05));

svg.append("g")
  .attr("transform", `translate(${ux(-0.25)},0)`)
  .call(d3.axisLeft(iy).tickValues(iTicks).tickSize(-3).tickPadding(10)
    .tickFormat(d => d === 0 ? "0" : d.toFixed(2)))
  .call(g => styleAxis(g, 22, 1.05));

const orbit = [...mainLoops, ...extraLoops, ...upperLoops, ...innerLoops].flat();
svg.append("path")
  .datum(orbit)
  .attr("fill", "none")
  .attr("stroke", ink)
  .attr("stroke-width", 1.15)
  .attr("stroke-linejoin", "round")
  .attr("d", d3.line().x(d => ux(d[0])).y(d => iy(d[1])));

const botY = title(80, 316, 1.17);
botY.append("tspan").attr("font-style", "italic").text("i");
botY.append("tspan").attr("font-style", "italic").attr("font-size", 18).attr("dy", 6).text("L");
botY.append("tspan").attr("dy", -6).text("/mA");

const botX = title(480, 637, 1.1);
botX.append("tspan").attr("font-style", "italic").text("u");
botX.append("tspan").attr("font-style", "italic").attr("font-size", 18).attr("dy", 6).text("C");
botX.append("tspan").attr("font-size", 18).text("2");
botX.append("tspan").attr("dy", -6).text("/V");
</script>
</body>
</html>
